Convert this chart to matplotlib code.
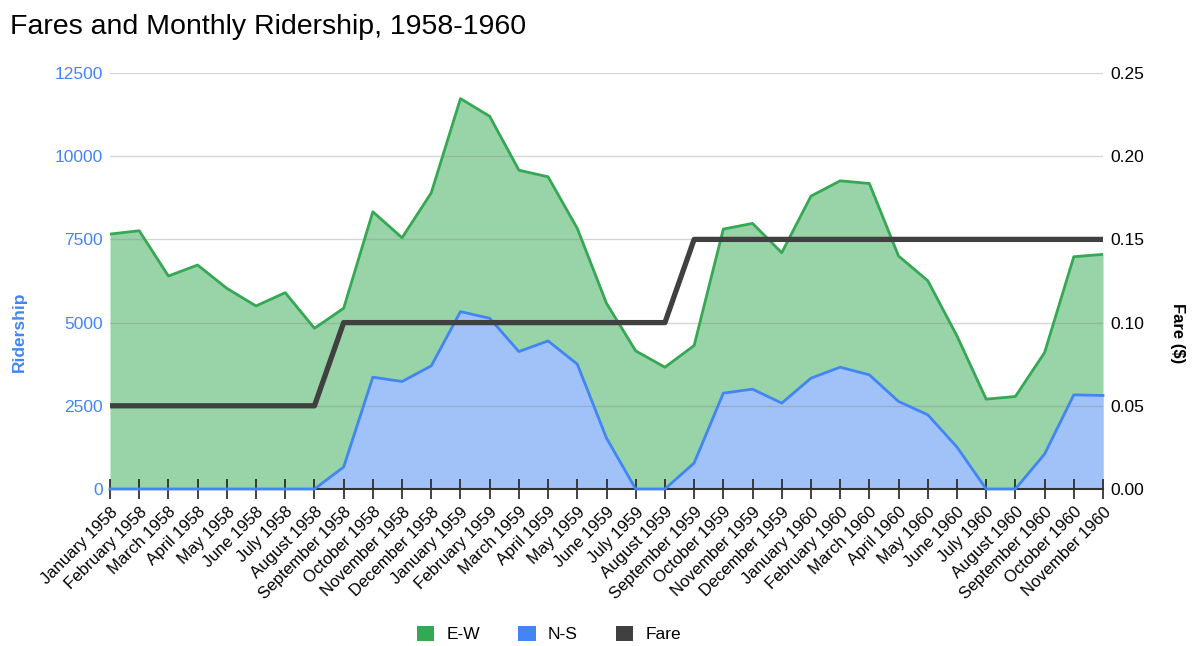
import matplotlib.pyplot as plt
from matplotlib.patches import Patch
import numpy as np

plt.rcParams['font.family'] = ['Liberation Sans', 'DejaVu Sans']

months = ['January 1958', 'February 1958', 'March 1958', 'April 1958', 'May 1958',
          'June 1958', 'July 1958', 'August 1958', 'September 1958', 'October 1958',
          'November 1958', 'December 1958', 'January 1959', 'February 1959',
          'March 1959', 'April 1959', 'May 1959', 'June 1959', 'July 1959',
          'August 1959', 'September 1959', 'October 1959', 'November 1959',
          'December 1959', 'January 1960', 'February 1960', 'March 1960',
          'April 1960', 'May 1960', 'June 1960', 'July 1960', 'August 1960',
          'September 1960', 'October 1960', 'November 1960']

ew = [7660, 7760, 6400, 6730, 6030, 5500, 5900, 4830, 5430, 8330, 7550, 8900,
      11730, 11200, 9580, 9380, 7830, 5580, 4150, 3660, 4310, 7810, 7980, 7100,
      8800, 9260, 9180, 7000, 6260, 4600, 2700, 2780, 4100, 6980, 7050]
ns = [0, 0, 0, 0, 0, 0, 0, 0, 660, 3360, 3230, 3700,
      5330, 5130, 4130, 4450, 3750, 1530, 0, 0, 780, 2880, 3000, 2580,
      3330, 3660, 3430, 2630, 2230, 1260, 0, 0, 1050, 2830, 2810]
fare = [0.05] * 8 + [0.10] * 12 + [0.15] * 15

green = '#34a853'
blue = '#4285f4'
dark = '#404040'

x = np.arange(len(months))

fig = plt.figure(figsize=(11.92, 6.46), dpi=100)
ax = fig.add_axes([110 / 1192, 1 - 489 / 646, 993 / 1192, 416 / 646])

ax.fill_between(x, ew, color='#99d3a8', lw=0, zorder=1)
ax.plot(x, ew, color=green, lw=2, zorder=3)
ax.fill_between(x, ns, color='#a0c2f8', lw=0, zorder=2)
ax.plot(x, ns, color=blue, lw=2, zorder=6, clip_on=False)

ax.set_xlim(0, len(months) - 1)
ax.set_ylim(0, 12500)
ax.set_yticks([0, 2500, 5000, 7500, 10000, 12500])
ax.set_yticklabels(['0', '2500', '5000', '7500', '10000', '12500'])
ax.tick_params(axis='y', length=0, labelcolor=blue, labelsize=12.5, pad=5)
ax.yaxis.grid(True, color='#888888', alpha=0.35, lw=1, zorder=2.5)
ax.set_axisbelow(False)
for s in ['top', 'right', 'left']:
    ax.spines[s].set_visible(False)
ax.spines['bottom'].set_color('#333333')
ax.spines['bottom'].set_linewidth(1.5)
ax.spines['bottom'].set_zorder(5)

ax.set_xticks(x)
ax.set_xticklabels(months, rotation=45, ha='right', rotation_mode='anchor', fontsize=12)
ax.tick_params(axis='x', direction='inout', length=14, width=1.2, color='#222222', pad=4)

ax.set_ylabel('Ridership', color=blue, fontweight='bold', fontsize=12.5)
ax.yaxis.set_label_coords(-83 / 993, (489 - 332) / 416)

ax2 = ax.twinx()
ax2.plot(x, fare, color=dark, lw=3.8, zorder=6)
ax2.set_ylim(0, 0.25)
ax2.set_yticks([0, 0.05, 0.10, 0.15, 0.20, 0.25])
ax2.set_yticklabels(['0.00', '0.05', '0.10', '0.15', '0.20', '0.25'])
ax2.tick_params(axis='y', length=0, labelsize=12.5, pad=5)
for s in ['top', 'right', 'left', 'bottom']:
    ax2.spines[s].set_visible(False)
ax2.set_ylabel('Fare ($)', fontweight='bold', fontsize=12, rotation=270, va='center')
ax2.yaxis.set_label_coords((1178 - 110) / 993, (489 - 333) / 416)

fig.text(10 / 1192, 1 - 27 / 646, 'Fares and Monthly Ridership, 1958-1960',
         fontsize=20.5, va='center', ha='left')

handles = [Patch(facecolor=green, edgecolor='none'),
           Patch(facecolor=blue, edgecolor='none'),
           Patch(facecolor=dark, edgecolor='none')]
fig.legend(handles, ['E-W', 'N-S', 'Fare'], loc='center', ncol=3,
           bbox_to_anchor=(549 / 1192, 1 - 634 / 646), frameon=False,
           handlelength=1.0, handleheight=1.0, columnspacing=2.2, handletextpad=0.7,
           fontsize=12.5)

fig.savefig('out.png', dpi=100)
